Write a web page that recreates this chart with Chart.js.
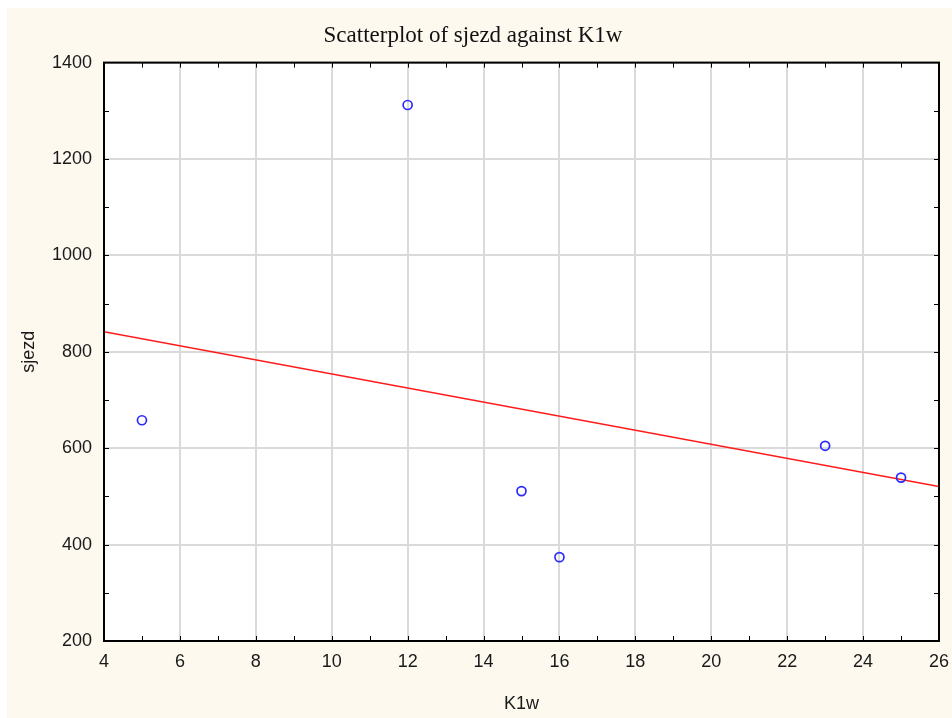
<!DOCTYPE html>
<html>
<head>
<meta charset="utf-8">
<script src="https://cdn.jsdelivr.net/npm/chart.js@4.4.1/dist/chart.umd.min.js"></script>
<style>
  html,body{margin:0;padding:0;background:#fff;}
  #wrap{position:absolute;left:0;top:0;width:952px;height:718px;}
</style>
</head>
<body>
<div id="wrap"><canvas id="c" width="952" height="718"></canvas></div>
<script>
// observations
const k1w   = [5, 12, 15, 16, 23, 25];
const sjezd = [658, 1312, 511, 374, 605, 539];
// axis ranges
const xRange = [4, 26];
const yRange = [200, 1400];

// least squares fit through the observations
function fitLine(xs, ys){
  const n = xs.length;
  const mx = xs.reduce((a,b)=>a+b,0)/n, my = ys.reduce((a,b)=>a+b,0)/n;
  let sxy=0, sxx=0;
  for(let i=0;i<n;i++){ sxy += (xs[i]-mx)*(ys[i]-my); sxx += (xs[i]-mx)**2; }
  const b = sxy/sxx, a = my - b*mx;
  return x => a + b*x;
}
const fit = fitLine(k1w, sjezd);
const fitPts = xRange.map(x => ({x, y: fit(x)}));
const pts = k1w.map((x,i)=>({x, y: sjezd[i]}));

// cream backdrop, white plot, black frame with inward ticks
const frame = {
  id:'frame',
  beforeDraw(chart){
    const {ctx, chartArea:a} = chart;
    ctx.save();
    ctx.fillStyle = '#fdf9ef';
    ctx.fillRect(7, 8, chart.width-7, chart.height-8);
    ctx.fillStyle = '#fff';
    ctx.fillRect(a.left, a.top, a.right-a.left, a.bottom-a.top);
    ctx.restore();
  },
  afterDraw(chart){
    const {ctx, chartArea:a, scales:{x, y}} = chart;
    ctx.save();
    ctx.strokeStyle = '#000';
    ctx.lineWidth = 1;
    ctx.beginPath();
    for(let v=xRange[0]+1; v<xRange[1]; v++){
      const px = Math.round(x.getPixelForValue(v))+0.5;
      ctx.moveTo(px, a.bottom); ctx.lineTo(px, a.bottom-5);
      ctx.moveTo(px, a.top); ctx.lineTo(px, a.top+5);
    }
    for(let v=yRange[0]+100; v<yRange[1]; v+=100){
      const py = Math.round(y.getPixelForValue(v))+0.5;
      ctx.moveTo(a.left, py); ctx.lineTo(a.left+5, py);
      ctx.moveTo(a.right, py); ctx.lineTo(a.right-5, py);
    }
    ctx.stroke();
    ctx.lineWidth = 2;
    ctx.strokeRect(a.left, a.top, a.right-a.left, a.bottom-a.top);
    ctx.restore();
  }
};

const tickFont = {family:'"Liberation Sans", Arial, sans-serif', size:18};
const plain = v => String(v);

new Chart(document.getElementById('c'), {
  data:{
    datasets:[
      {type:'scatter', data:pts, showLine:false, pointStyle:'circle', pointRadius:4.5,
       pointBorderWidth:1.7, pointBorderColor:'#2a2aff', pointBackgroundColor:'rgba(0,0,0,0)', order:1},
      {type:'line', data:fitPts, borderColor:'#ff1a1a', borderWidth:1.6, pointRadius:0, fill:false, order:2}
    ]
  },
  options:{
    responsive:false, animation:false, devicePixelRatio:1,
    layout:{padding:{left:7, top:8, right:13, bottom:0}},
    plugins:{
      legend:{display:false}, tooltip:{enabled:false},
      title:{display:true, text:'Scatterplot of sjezd against K1w', color:'#111',
        font:{family:'"Liberation Serif", "Times New Roman", serif', size:23, weight:'normal', lineHeight:1.2},
        padding:{top:14, bottom:13}}
    },
    scales:{
      x:{type:'linear', min:xRange[0], max:xRange[1],
        afterFit(s){ s.height = 77; s.paddingLeft = 0; s.paddingRight = 0; },
        ticks:{stepSize:2, color:'#1a1a1a', font:tickFont, padding:10, callback:plain},
        grid:{color:'#dadada', lineWidth:2, drawTicks:false},
        border:{display:false},
        title:{display:true, text:'K1w', color:'#1a1a1a', font:tickFont, padding:{top:0, bottom:3}}},
      y:{type:'linear', min:yRange[0], max:yRange[1],
        afterFit(s){ s.width = 97; s.paddingTop = 0; s.paddingBottom = 0; },
        ticks:{stepSize:200, color:'#1a1a1a', font:tickFont, padding:12, callback:plain},
        grid:{color:'#dadada', lineWidth:2, drawTicks:false},
        border:{display:false},
        title:{display:true, text:'sjezd', color:'#1a1a1a', font:tickFont, padding:{top:11, bottom:0}}}
    }
  },
  plugins:[frame]
});
</script>
</body>
</html>
